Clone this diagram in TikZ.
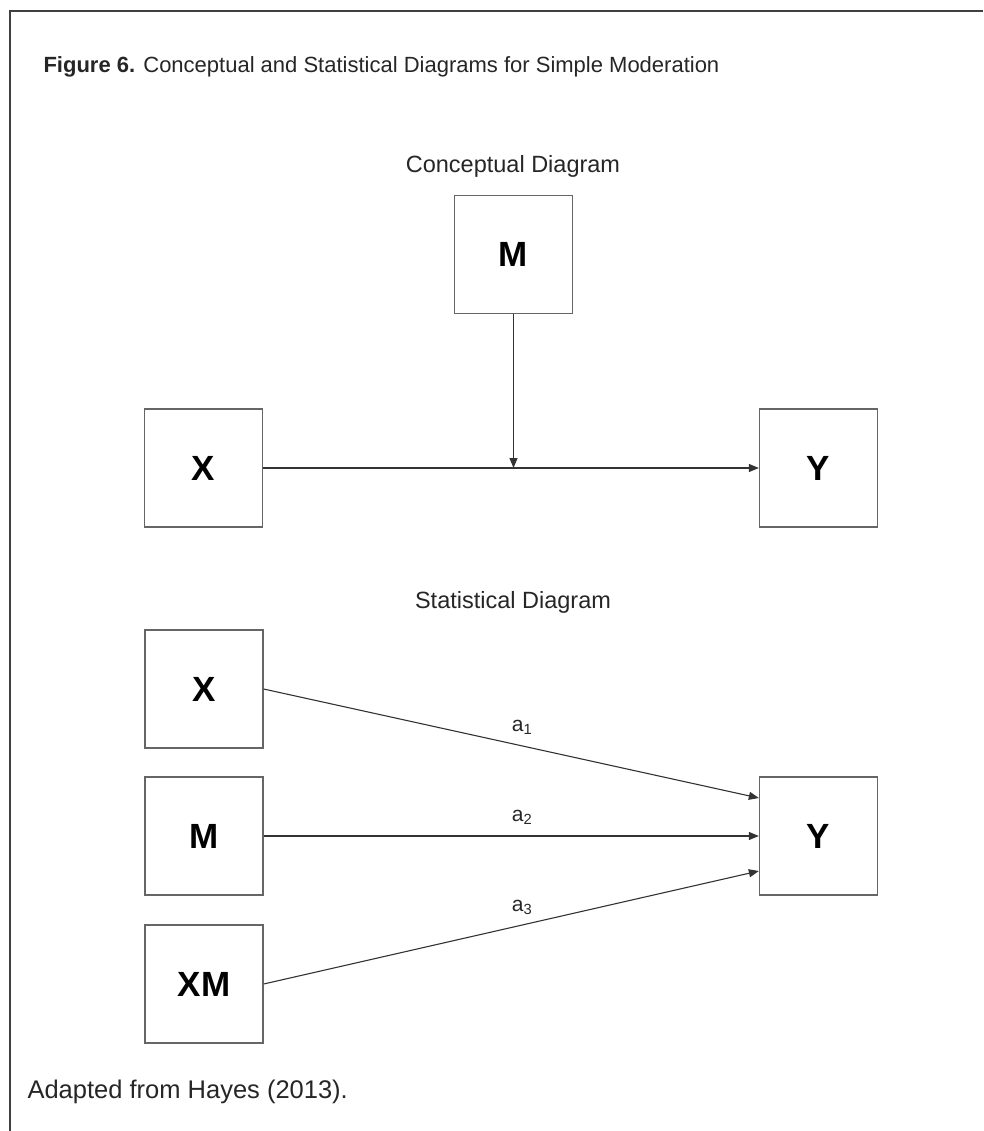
\documentclass[tikz,border=0pt]{standalone}
\usepackage{fontspec}
\setmainfont{Liberation Sans}
\usetikzlibrary{arrows.meta}
\begin{document}
\begin{tikzpicture}[x=1pt,y=-1pt,
  varbox/.style={draw=black!60, line width=1.3pt, line join=miter, minimum width=118pt, minimum height=118pt,
    inner sep=0pt, font=\fontsize{35}{38}\selectfont\bfseries},
  path/.style={draw=black!80, line width=1.1pt, -{Triangle[length=10pt,width=8pt]}},
  heading/.style={font=\fontsize{23.5}{26}\selectfont, text=black!85},
  coef/.style={font=\fontsize{21}{23}\selectfont, text=black!85}]
  % page and frame
  \useasboundingbox (0,0) rectangle (983,1131);
  \fill[white] (0,0) rectangle (983,1131);
  \draw[black!75, line width=2pt] (10,1131) -- (10,11) -- (983,11);

  % caption
  \node[anchor=west, font=\fontsize{22}{26}\selectfont, text=black!85] (title) at (40,67)
    {\textbf{Figure 6.} Conceptual and Statistical Diagrams for Simple Moderation};

  % conceptual diagram
  \node[heading] (chead) at (513,166) {Conceptual Diagram};
  \node[varbox] (cM) at (513.5,254.5) {M};
  \node[varbox] (cX) at (203.5,468) {X};
  \node[varbox] (cY) at (818.5,468) {Y};
  \draw[path] (cX) -- (cY);
  \coordinate (mid) at (cM.south |- cX.east);
  \draw[path] (cM) -- (mid);

  % statistical diagram
  \node[heading] (shead) at (513,602) {Statistical Diagram};
  \node[varbox] (sX) at (204,689) {X};
  \node[varbox] (sM) at (204,836) {M};
  \node[varbox] (sXM) at (204,984) {XM};
  \node[varbox] (sY) at (818.5,836) {Y};
  \draw[path] (sX.east) -- (sY.west |- 0,798) coordinate (y1);
  \draw[path] (sM) -- (sY);
  \draw[path] (sXM.east) -- (sY.west |- 0,871) coordinate (y3);
  \node[coef] (a1) at (522,727) {a\textsubscript{1}};
  \node[coef] (a2) at (522,817) {a\textsubscript{2}};
  \node[coef] (a3) at (522,907) {a\textsubscript{3}};

  % source note
  \node[anchor=west, font=\fontsize{25.5}{28}\selectfont, text=black!85] (note) at (24,1092)
    {Adapted from Hayes (2013).};
\end{tikzpicture}
\end{document}
